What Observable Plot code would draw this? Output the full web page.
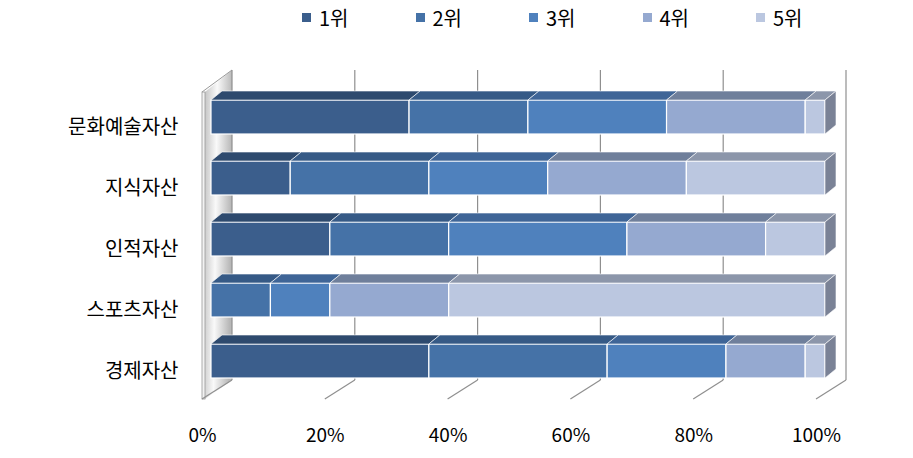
<!DOCTYPE html>
<html><head><meta charset="utf-8">
<script src="https://cdn.jsdelivr.net/npm/d3@7"></script>
<script src="https://cdn.jsdelivr.net/npm/@observablehq/plot@0.6"></script>
<style>
body{margin:0;background:#fff;font-family:"Noto Sans CJK KR","Noto Sans",sans-serif;}
#legend{position:relative;height:36px;width:913px;}
.item{position:absolute;top:0;height:34px;display:flex;align-items:center;font-size:20px;color:#000;}
.sw{width:9px;height:9px;margin-right:8px;}
</style></head><body>
<div id="legend"></div><div id="chart"></div>
<script>
// ---- data ----
const categories = ["문화예술자산", "지식자산", "인적자산", "스포츠자산", "경제자산"];
const ranks = ["1위", "2위", "3위", "4위", "5위"];
const rank1 = [10, 4, 6, 0, 11];
const rank2 = [6, 7, 6, 3, 9];
const rank3 = [7, 6, 9, 3, 6];
const rank4 = [7, 7, 7, 6, 4];
const rank5 = [1, 7, 3, 19, 1];
const tickValues = [0, 0.2, 0.4, 0.6, 0.8, 1];

// ---- styles ----
const frontColors = ["#3b5e8c", "#4572a7", "#4f81bd", "#95a9d0", "#bbc7e0"];
const topColors = ["#2e4a6e", "#365a86", "#3f6597", "#6f7f9b", "#8c96aa"];
const sideColors = ["#24395a", "#2d4a70", "#34547e", "#667590", "#7a8296"];

const rankValues = [rank1, rank2, rank3, rank4, rank5];
const data = ranks.flatMap((r, ri) => categories.map((c, ci) => ({category: c, rank: r, value: rankValues[ri][ci]})))
  .filter(d => d.value > 0);

// legend
const legend = document.getElementById("legend");
ranks.forEach((r, i) => {
  const it = document.createElement("div");
  it.className = "item";
  it.style.left = (302 + i * 113.5) + "px";
  it.innerHTML = `<span class="sw" style="background:${frontColors[i]}"></span><span>${r}</span>`;
  legend.appendChild(it);
});

const DX = 11, DY = -9;        // bar depth
const FRONT = -9, BACK = 21;   // floor front / back wall x offsets from bar front plane

function frame3d(index, scales, values, dims) {
  const x = scales.x;
  const g = d3.create("svg:g");
  const top = dims.marginTop, bot = dims.height - dims.marginBottom;
  const floorY = bot + 19, wallTopF = top + 22;
  const fx = v => x(v) + FRONT, bx = v => x(v) + BACK;
  const defs = g.append("defs");
  const grad = defs.append("linearGradient").attr("id", "wallGrad")
    .attr("x1", "0").attr("y1", "0").attr("x2", "1").attr("y2", "0.15");
  grad.append("stop").attr("offset", "0").attr("stop-color", "#c4c4c4");
  grad.append("stop").attr("offset", "0.45").attr("stop-color", "#f9f9f9");
  grad.append("stop").attr("offset", "1").attr("stop-color", "#b8b8b8");
  // left wall side
  g.append("polygon")
    .attr("points", [[fx(0) + 3, wallTopF], [bx(0), top], [bx(0), bot], [fx(0) + 3, floorY]].join(" "))
    .attr("fill", "url(#wallGrad)");
  // left wall front strip
  g.append("rect").attr("x", fx(0)).attr("y", wallTopF).attr("width", 3).attr("height", floorY - wallTopF)
    .attr("fill", "#f2f2f2").attr("stroke", "#9a9a9a").attr("stroke-width", 0.8);
  g.append("line").attr("x1", fx(0)).attr("y1", wallTopF).attr("x2", bx(0)).attr("y2", top)
    .attr("stroke", "#9a9a9a").attr("stroke-width", 1);
  // back wall and floor gridlines
  for (const v of tickValues) {
    g.append("line").attr("x1", bx(v)).attr("x2", bx(v)).attr("y1", top).attr("y2", bot)
      .attr("stroke", "#8f8f8f").attr("stroke-width", 1.2);
    g.append("line").attr("x1", fx(v)).attr("y1", floorY).attr("x2", bx(v)).attr("y2", bot)
      .attr("stroke", "#8f8f8f").attr("stroke-width", 1.2);
  }
  return g.node();
}

const chart = Plot.plot({
  width: 913, height: 422,
  marginLeft: 211, marginRight: 88, marginTop: 34, marginBottom: 78,
  style: {fontFamily: '"Noto Sans CJK KR", "Noto Sans", sans-serif', fontSize: "19px", color: "#000", background: "#fff"},
  x: {domain: [0, 1]},
  y: {domain: categories, range: [35.8, 369.8], padding: 0.44},
  color: {domain: ranks, range: frontColors},
  marks: [
    frame3d,
    Plot.barX(data, Plot.stackX({
      x: "value", y: "category", z: "rank", fill: "rank", order: ranks, offset: "normalize",
      stroke: "white", strokeWidth: 1.2,
      render(index, scales, values, dims, ctx, next) {
        const g = next(index, scales, values, dims, ctx);
        const rects = [...g.querySelectorAll("rect")].map(r => ({
          x: +r.getAttribute("x"), y: +r.getAttribute("y"),
          w: +r.getAttribute("width"), h: +r.getAttribute("height"),
          k: frontColors.indexOf(r.getAttribute("fill"))
        }));
        const sel = d3.select(g);
        for (const r of rects) {
          sel.append("polygon")
            .attr("points", [[r.x, r.y], [r.x + r.w, r.y], [r.x + r.w + DX, r.y + DY], [r.x + DX, r.y + DY]].join(" "))
            .attr("fill", topColors[r.k]).attr("stroke", "rgba(255,255,255,0.6)").attr("stroke-width", 1)
            .attr("stroke-linejoin", "round");
        }
        const rows = d3.group(rects, r => r.y);
        for (const [, rs] of rows) {
          const r = d3.greatest(rs, d => d.x + d.w);
          const xe = r.x + r.w;
          sel.append("polygon")
            .attr("points", [[xe, r.y], [xe + DX, r.y + DY], [xe + DX, r.y + r.h + DY], [xe, r.y + r.h]].join(" "))
            .attr("fill", sideColors[r.k]).attr("stroke", "rgba(255,255,255,0.6)").attr("stroke-width", 1)
            .attr("stroke-linejoin", "round");
        }
        return g;
      }
    })),
    Plot.axisX({ticks: tickValues, tickFormat: d => Math.round(d * 100) + "%", tickSize: 0, tickPadding: 48, dx: FRONT, label: null, fill: "#000"}),
    Plot.axisY({tickSize: 0, tickPadding: 33, dy: 10, label: null, fill: "#000", fontSize: 20})
  ]
});
document.getElementById("chart").appendChild(chart);
</script>
</body></html>
